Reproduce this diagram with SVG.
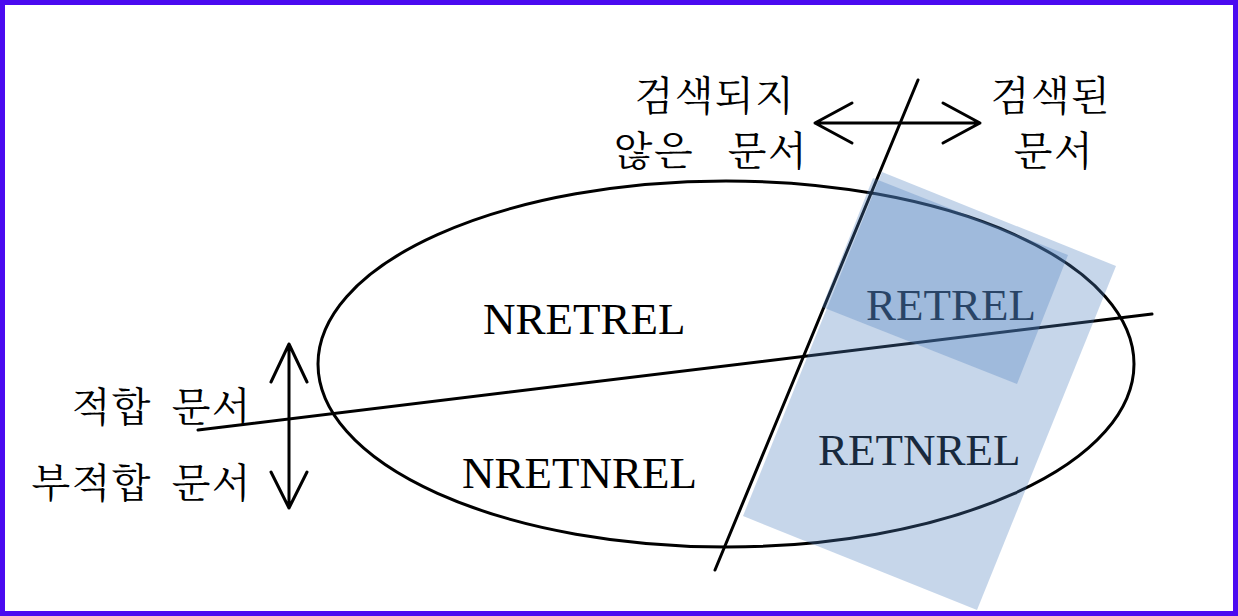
<svg xmlns="http://www.w3.org/2000/svg" width="1238" height="616" viewBox="0 0 1238 616">
<style>
.ln{stroke:#000;stroke-width:3;fill:none;stroke-linecap:round;stroke-linejoin:round}
.en{font-family:"Liberation Serif","Times New Roman",serif;font-size:45px;fill:#000}
.ko{font-family:"Noto Serif CJK KR","Noto Sans CJK KR",sans-serif;font-size:40px;fill:#000}
.box{fill:#4F81BD;fill-opacity:0.32;stroke:none}
</style>
<rect x="0" y="0" width="1238" height="616" fill="#fff"/>
<g id="universe">
<ellipse cx="726" cy="364" rx="408" ry="183" class="ln"/>
</g>
<g id="connectors">
<line x1="918" y1="80" x2="715" y2="570" class="ln"/>
<line x1="198" y1="430" x2="1152" y2="314" class="ln"/>
<path d="M815 123 H980 M852 103 L815 123 L852 143 M943 103 L980 123 L943 143" class="ln"/>
<path d="M289 344 V508 M271 382 L289 344 L307 382 M271 472 L289 508 L307 472" class="ln"/>
</g>
<g id="nretrel"><text class="en" x="483" y="334">NRETREL</text></g>
<g id="nretnrel"><text class="en" x="462" y="488">NRETNREL</text></g>
<g id="retrel"><text class="en" x="866" y="320">RETREL</text></g>
<g id="retnrel"><text class="en" x="818" y="465">RETNREL</text></g>
<g id="not-retrieved">
<text class="ko" x="715" y="110" text-anchor="middle" letter-spacing="1.5">검색되지</text>
<text class="ko" x="711" y="165" text-anchor="middle" word-spacing="22" letter-spacing="1.5">않은 문서</text>
</g>
<g id="retrieved">
<text class="ko" x="1051" y="110" text-anchor="middle" letter-spacing="1.5">검색된</text>
<text class="ko" x="1054" y="165" text-anchor="middle" letter-spacing="1.5">문서</text>
</g>
<g id="relevant"><text class="ko" x="252" y="421" text-anchor="end" word-spacing="8" letter-spacing="1.5">적합 문서</text></g>
<g id="nonrelevant"><text class="ko" x="252" y="497" text-anchor="end" word-spacing="8" letter-spacing="1.5">부적합 문서</text></g>
<g id="retrieved-area">
<polygon class="box" points="882,172 1116,266 977,610 743,516"/>
<polygon class="box" points="873,178 1068,255 1017,384 822,307"/>
</g>
<rect x="2.5" y="2.5" width="1233" height="611" fill="none" stroke="#4A0AF0" stroke-width="5"/>
</svg>
